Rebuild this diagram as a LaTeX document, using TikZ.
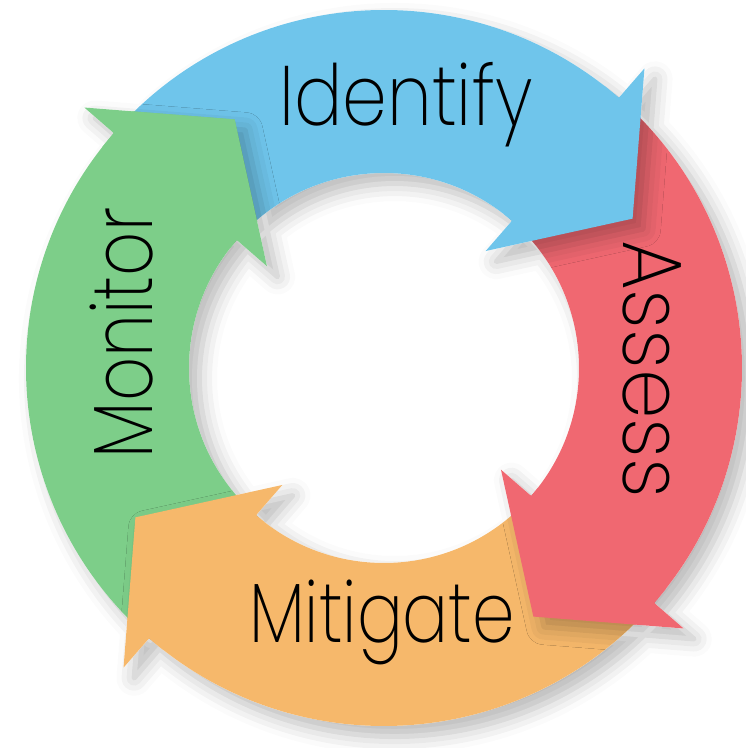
\documentclass[tikz,border=0pt]{standalone}
\usepackage{fontspec}
\newfontfamily\ringfont[FakeStretch=0.85]{Poppins ExtraLight}
\usetikzlibrary{shadows.blur}
\definecolor{idblue}{RGB}{111,197,235}
\definecolor{asred}{RGB}{240,104,113}
\definecolor{miorange}{RGB}{246,184,107}
\definecolor{mogreen}{RGB}{125,206,137}
\tikzset{
	ringshadow/.style={blur shadow={shadow xshift=3pt,shadow yshift=-3pt,shadow blur radius=5pt,shadow opacity=28}},
	steplabel/.style={font=\ringfont\fontsize{24}{24}\selectfont,anchor=base,inner sep=0pt}
}
\def\Rout{3.58}
\def\Rin{1.95}
% one arrow of the ring: start angle, base angle of the head
\def\arrowpath#1#2{(#1:\Rout) arc[start angle=#1,end angle=#2,radius=\Rout]
	-- (#2:3.97) -- ({#2-18}:2.90) -- (#2:1.55) -- (#2:\Rin)
	arc[start angle=#2,end angle=#1,radius=\Rin] -- cycle}
% piece of the ring: from angle, to angle, radial margin
\def\ringpiece#1#2#3{({#1}:\Rout+#3) arc[start angle=#1,end angle=#2,radius=\Rout+#3]
	-- ({#2}:\Rin-#3) arc[start angle=#2,end angle=#1,radius=\Rin-#3] -- cycle}
\begin{document}
\begin{tikzpicture}
		\useasboundingbox (-3.84,-3.80) rectangle (3.61,3.68);
		% shadow of the whole ring
		\fill[white,ringshadow] \arrowpath{137}{49} \arrowpath{47}{-41}
		\arrowpath{-43}{-131} \arrowpath{-133}{-221};
		\foreach \s/\b/\c in {137/49/idblue,47/-41/asred,-43/-131/miorange,-133/-221/mogreen}
		\fill[\c] \arrowpath{\s}{\b};
		% heads again, over the tail of the next arrow
		\foreach \s/\b/\c in {137/49/idblue,47/-41/asred,-43/-131/miorange,-133/-221/mogreen}{
			\begin{scope}
				\clip \ringpiece{\b+1}{\b-30}{0};
				\path[ringshadow] \arrowpath{\s}{\b};
			\end{scope}
			\begin{scope}
				\clip \ringpiece{\b+3}{\b-30}{0.015};
				\fill[\c] \arrowpath{\s}{\b};
			\end{scope}}
		\node[steplabel] (identify) at (0.22,2.42) {Identify};
		\node[steplabel,rotate=-90,xscale=1.11] (assess) at (2.39,-0.01) {Assess};
		\node[steplabel,xscale=0.95] (mitigate) at (-0.02,-2.74) {Mitigate};
		\node[steplabel,rotate=90,xscale=0.96] (monitor) at (-2.31,0.35) {Monitor};
\end{tikzpicture}
\end{document}
